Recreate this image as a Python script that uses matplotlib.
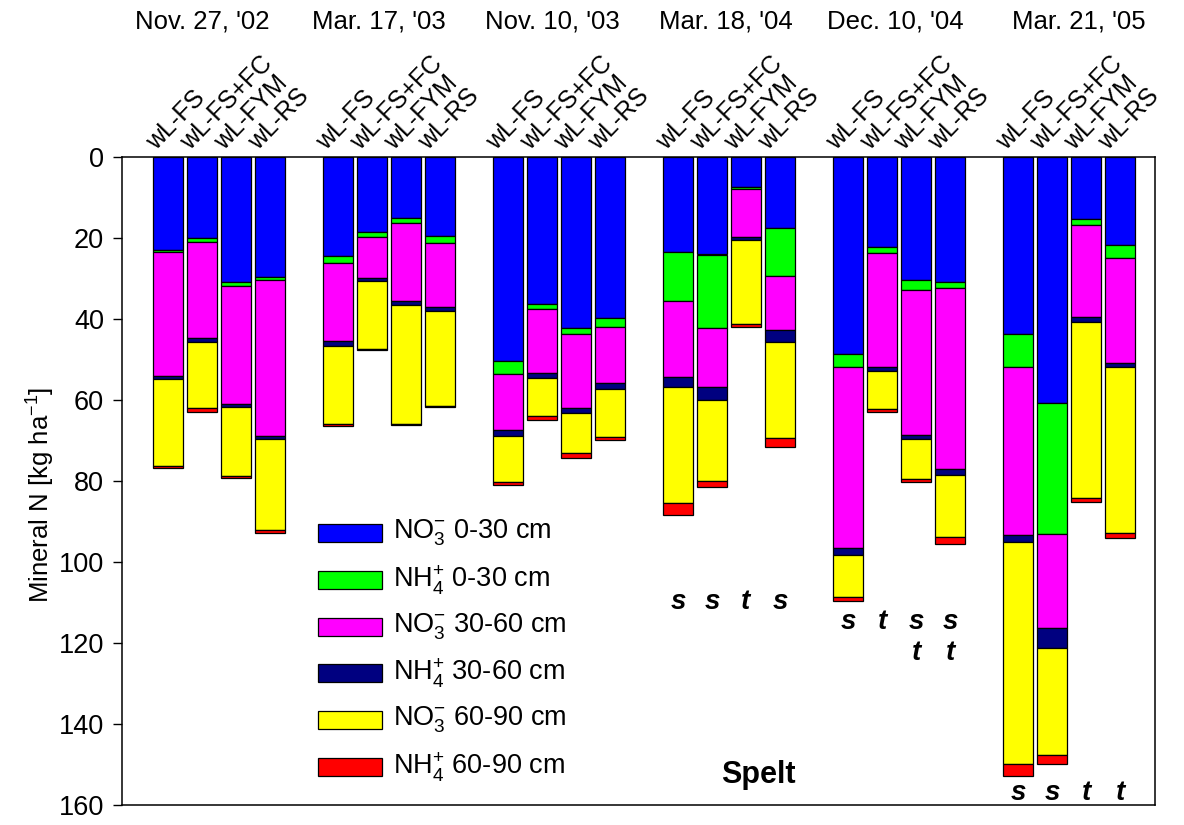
import numpy as np
import matplotlib
matplotlib.use("Agg")
import matplotlib.pyplot as plt
from matplotlib.patches import Rectangle

plt.rcParams["font.family"] = ["Liberation Sans", "DejaVu Sans"]
plt.rcParams["mathtext.fontset"] = "custom"
plt.rcParams["mathtext.rm"] = "Liberation Sans"
plt.rcParams["mathtext.it"] = "Liberation Sans:italic"
plt.rcParams["mathtext.bf"] = "Liberation Sans:bold"

# Sampling dates and treatments
dates = ["Nov. 27, '02", "Mar. 17, '03", "Nov. 10, '03",
         "Mar. 18, '04", "Dec. 10, '04", "Mar. 21, '05"]
treatments = ["wL-FS", "wL-FS+FC", "wL-FYM", "wL-RS"]

# Mineral N pools [kg ha-1], ordered date by date, treatment by treatment
no3_0_30 = [23.0, 20.0, 30.7, 29.5, 24.4, 18.5, 15.1, 19.4,
            50.2, 36.2, 42.2, 39.6, 23.3, 24.0, 7.3, 17.4,
            48.6, 22.1, 30.3, 30.7, 43.7, 60.7, 15.3, 21.7]
nh4_0_30 = [0.5, 1.0, 1.0, 0.8, 1.6, 1.3, 1.2, 1.8,
            3.3, 1.3, 1.5, 2.2, 12.3, 18.1, 0.6, 11.9,
            3.1, 1.6, 2.5, 1.5, 8.0, 32.3, 1.5, 3.2]
no3_30_60 = [30.5, 23.7, 29.2, 38.5, 19.3, 10.1, 19.3, 15.8,
             13.8, 15.7, 18.1, 14.0, 18.6, 14.5, 11.9, 13.3,
             44.8, 28.0, 35.8, 44.8, 41.6, 23.1, 22.7, 25.8]
nh4_30_60 = [0.7, 0.8, 0.7, 0.8, 1.2, 0.6, 0.9, 0.9,
             1.4, 1.2, 1.3, 1.4, 2.6, 3.3, 0.6, 2.9,
             1.7, 1.0, 1.0, 1.4, 1.6, 5.1, 1.1, 1.0]
no3_60_90 = [21.5, 16.5, 17.0, 22.4, 19.4, 16.8, 29.4, 23.5,
             11.5, 9.4, 9.8, 11.8, 28.6, 20.1, 20.8, 23.9,
             10.4, 9.4, 9.9, 15.4, 55.0, 26.5, 43.6, 41.1]
nh4_60_90 = [0.6, 0.8, 0.5, 0.7, 0.4, 0.4, 0.3, 0.2,
             0.6, 1.1, 1.4, 0.8, 3.0, 1.5, 0.6, 2.2,
             0.9, 0.9, 0.7, 1.7, 2.8, 2.2, 0.8, 1.3]

series = [no3_0_30, nh4_0_30, no3_30_60, nh4_30_60, no3_60_90, nh4_60_90]
series_labels = ["NO$_3^{-}$ 0-30 cm", "NH$_4^{+}$ 0-30 cm",
                 "NO$_3^{-}$ 30-60 cm", "NH$_4^{+}$ 30-60 cm",
                 "NO$_3^{-}$ 60-90 cm", "NH$_4^{+}$ 60-90 cm"]
series_colors = ["#0000FF", "#00FF00", "#FF00FF", "#000080", "#FFFF00", "#FF0000"]

# Significance marks below the bars (per date, per treatment)
sig_marks = {
    "Mar. 18, '04": [["s"], ["s"], ["t"], ["s"]],
    "Dec. 10, '04": [["s"], ["t"], ["s", "t"], ["s", "t"]],
    "Mar. 21, '05": [["s"], ["s"], ["t"], ["t"]],
}
sig_rows = {"Mar. 18, '04": 109.8, "Dec. 10, '04": 114.7, "Mar. 21, '05": 157.0}

W, H = 1184, 825
fig = plt.figure(figsize=(W / 100, H / 100), dpi=100)
ax_l, ax_r, ax_t, ax_b = 122, 1155, 157.3, 805.3
ax = fig.add_axes([ax_l / W, 1 - ax_b / H, (ax_r - ax_l) / W, (ax_b - ax_t) / H])

n_t = len(treatments)
gi = np.repeat(np.arange(len(dates)), n_t)
ti = np.tile(np.arange(n_t), len(dates))
xpos = gi * (n_t + 1) + ti

bottom = np.zeros(len(xpos))
for vals, col in zip(series, series_colors):
    v = np.asarray(vals)
    ax.bar(xpos, v, bottom=bottom, width=0.9, color=col,
           edgecolor="black", linewidth=0.9)
    bottom += v

ax.set_xlim(-1.35, 29.03)
ax.set_ylim(160, 0)
ax.set_yticks(np.arange(0, 161, 20))
ax.set_xticks([])
ax.tick_params(axis="y", labelsize=19.5, length=6.5, width=1.0,
               direction="out", pad=6.5)
for s in ax.spines.values():
    s.set_linewidth(1.1)
ax.set_ylabel("Mineral N [kg ha$^{-1}$]", fontsize=18.5)
ax.yaxis.set_label_coords(-0.063, 1 - (495 - ax_t) / (ax_b - ax_t))

# Treatment labels above each bar
for x, t in zip(xpos, ti):
    ax.text(x - 0.25, -0.6, treatments[t], rotation=46, rotation_mode="anchor",
            ha="left", va="bottom", fontsize=18, clip_on=False)

# Date headers
date_x = [1.0, 6.2, 11.3, 16.4, 21.4, 26.8]
for dx, d in zip(date_x, dates):
    ax.text(dx, 1 + (ax_t - 22) / (ax_b - ax_t), d,
            transform=ax.get_xaxis_transform(), fontsize=18.5,
            ha="center", va="center", clip_on=False)

# Significance letters
for g, d in enumerate(dates):
    if d not in sig_marks:
        continue
    for t, marks in enumerate(sig_marks[d]):
        for r, m in enumerate(marks):
            ax.text(g * (n_t + 1) + t, sig_rows[d] + r * 7.8, m, fontsize=20,
                    fontweight="bold", fontstyle="italic",
                    ha="center", va="center")

# Legend drawn in figure pixels
leg_x0, leg_w, leg_h = 318, 64, 18
leg_y = [533, 580, 627, 673, 720, 767]
for yc, lab, col in zip(leg_y, series_labels, series_colors):
    fig.patches.append(Rectangle((leg_x0 / W, 1 - (yc + leg_h / 2) / H),
                                 leg_w / W, leg_h / H, facecolor=col,
                                 edgecolor="black", linewidth=0.9,
                                 transform=fig.transFigure))
    fig.text(393 / W, 1 - yc / H, lab, fontsize=19.5, ha="left", va="center")

fig.text(758 / W, 1 - 775 / H, "Spelt", fontsize=22, fontweight="bold",
         ha="center", va="center")

fig.savefig("out.png", dpi=100)
